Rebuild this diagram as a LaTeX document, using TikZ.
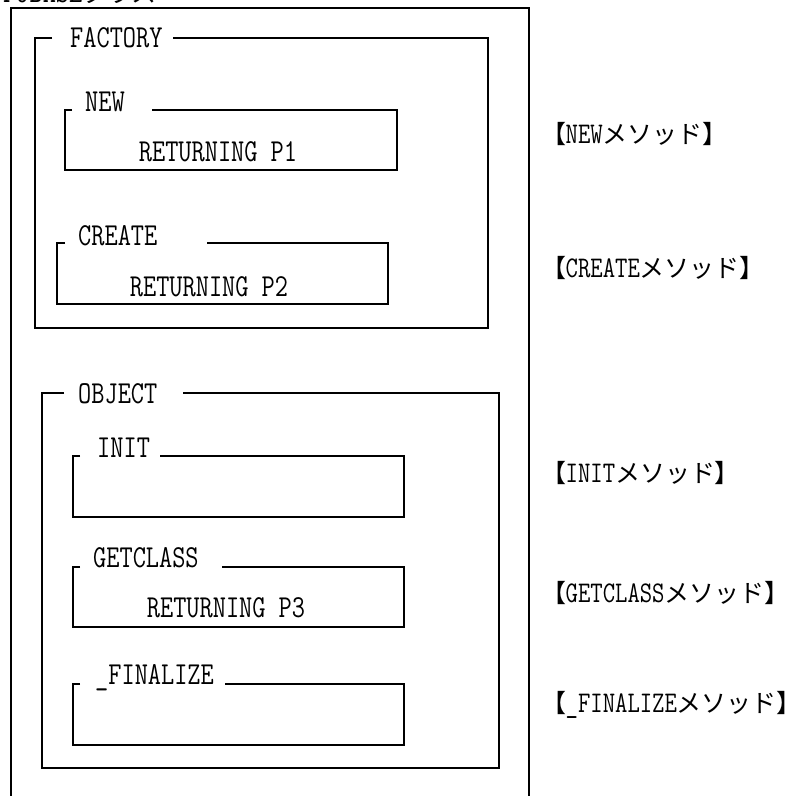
\documentclass[tikz,border=0pt]{standalone}
\usepackage{fontspec}
\usepackage{graphicx}
\newcommand\mono[1]{\scalebox{0.8}[1]{\ttfamily #1}}
\newfontfamily\cjkf{Noto Sans CJK JP}
\newfontfamily\brkf[RawFeature=+palt]{Noto Sans CJK JP}
\newcommand\kana[1]{{\cjkf\fontsize{25}{25}\selectfont #1}}
\newcommand\brk[1]{{\brkf\fontsize{25}{25}\selectfont #1}}
\newcommand\grpbox[6]{% left top right bottom gapstart gapend
  \draw[frame] (#5,#2) -- (#1,#2) -- (#1,#4) -- (#3,#4) -- (#3,#2) -- (#6,#2);}
\begin{document}
\begin{tikzpicture}[x=1pt,y=-1pt,
  frame/.style={line width=1.6pt,line join=miter},
  lbl/.style={anchor=base west,inner sep=0pt,font=\fontsize{32}{32}\selectfont},
  body/.style={anchor=base,inner sep=0pt,font=\fontsize{32}{32}\selectfont},
  rlbl/.style={anchor=base west,inner sep=0pt,font=\fontsize{30}{30}\selectfont}]
\useasboundingbox (0,0) rectangle (811,795);
\fill[white] (0,0) rectangle (811,795);
% cut-off title
\begin{scope}
  \clip (0,0) rectangle (300,2.6);
  \node[lbl] (title) at (3,2.4) {\mono{FJBASE}\kana{クラス}};
\end{scope}
% outer class box (open at the bottom)
\draw[frame] (11,800) -- (11,8) -- (529,8) -- (529,800);
% FACTORY
\node[lbl] (factory) at (70,47) {\mono{FACTORY}};
\grpbox{35}{38}{488}{328}{52}{173}
\node[lbl] (new) at (85,111) {\mono{NEW}};
\grpbox{65}{110}{397}{170}{72}{152}
\node[body] (ret1) at (218,161) {\mono{RETURNING P1}};
\node[lbl] (create) at (78,245) {\mono{CREATE}};
\grpbox{57}{243}{388}{304}{65}{207}
\node[body] (ret2) at (209,296) {\mono{RETURNING P2}};
% OBJECT
\node[lbl] (object) at (78,403) {\mono{OBJECT}};
\grpbox{42}{393}{499}{768}{64}{183}
\node[lbl] (init) at (97,457) {\mono{INIT}};
\grpbox{73}{456}{404}{517}{80}{160}
\node[lbl] (getclass) at (93,567) {\mono{GETCLASS}};
\grpbox{73}{567}{404}{627}{80}{222}
\node[body] (ret3) at (226,617) {\mono{RETURNING P3}};
\node[lbl] (finalize) at (95,684) {\mono{\_FINALIZE}};
\grpbox{73}{684}{404}{745}{80}{225}
% method captions
\node[rlbl] (mnew) at (553,143) {\brk{【}\mono{NEW}\kana{メソッド}\brk{】}};
\node[rlbl] (mcreate) at (553,277) {\brk{【}\mono{CREATE}\kana{メソッド}\brk{】}};
\node[rlbl] (minit) at (553,482) {\brk{【}\mono{INIT}\kana{メソッド}\brk{】}};
\node[rlbl] (mgetclass) at (553,602) {\brk{【}\mono{GETCLASS}\kana{メソッド}\brk{】}};
\node[rlbl] (mfinalize) at (553,712) {\brk{【}\mono{\_FINALIZE}\kana{メソッド}\brk{】}};
\end{tikzpicture}
\end{document}
